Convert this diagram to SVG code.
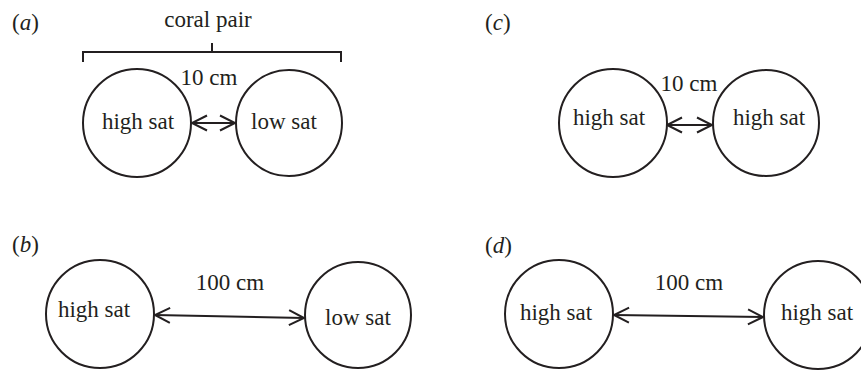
<svg xmlns="http://www.w3.org/2000/svg" width="861" height="370" viewBox="0 0 861 370">
<style>
text{font-family:'Liberation Serif','Tinos','Times New Roman','DejaVu Serif',serif;font-size:23px;fill:#231f20}
.c{text-anchor:middle}
.node circle{fill:#fff;stroke:#231f20;stroke-width:2}
.conn line{stroke:#231f20;stroke-width:2;fill:none}
.br{stroke:#231f20;stroke-width:2;fill:none}
</style>
<defs>
<marker id="ah" markerUnits="userSpaceOnUse" markerWidth="24" markerHeight="24" viewBox="-20 -12 24 24" refX="0" refY="0" orient="auto-start-reverse">
<path d="M-15,-7.5 L0,0 L-15,7.5" fill="none" stroke="#231f20" stroke-width="2"/>
</marker>
</defs>
<text x="12" y="30">(<tspan font-style="italic">a</tspan>)</text>
<text x="485" y="30">(<tspan font-style="italic">c</tspan>)</text>
<text x="12" y="252">(<tspan font-style="italic">b</tspan>)</text>
<text x="485" y="253">(<tspan font-style="italic">d</tspan>)</text>
<g id="bracket">
<path class="br" d="M83,62 V52 H341 V62 M212,52 V43"/>
<text class="c" x="208" y="27">coral pair</text>
</g>
<g class="conn" id="connectors">
<line x1="192" y1="123" x2="235" y2="123" marker-start="url(#ah)" marker-end="url(#ah)"/>
<line x1="667" y1="125" x2="712" y2="125" marker-start="url(#ah)" marker-end="url(#ah)"/>
<line x1="155" y1="315" x2="304" y2="318" marker-start="url(#ah)" marker-end="url(#ah)"/>
<line x1="614" y1="315" x2="763" y2="317" marker-start="url(#ah)" marker-end="url(#ah)"/>
</g>
<text class="c" x="209" y="85">10 cm</text>
<text class="c" x="689" y="91">10 cm</text>
<text class="c" x="230" y="290">100 cm</text>
<text class="c" x="689" y="290">100 cm</text>
<g class="node" id="a-high"><circle cx="137" cy="123" r="54"/><text class="c" x="138" y="129">high sat</text></g>
<g class="node" id="a-low"><circle cx="289" cy="123" r="53"/><text class="c" x="284" y="129">low sat</text></g>
<g class="node" id="c-high1"><circle cx="613" cy="123" r="54"/><text class="c" x="609" y="125">high sat</text></g>
<g class="node" id="c-high2"><circle cx="766" cy="123" r="53"/><text class="c" x="769" y="125">high sat</text></g>
<g class="node" id="b-high"><circle cx="100" cy="314" r="54"/><text class="c" x="94" y="317">high sat</text></g>
<g class="node" id="b-low"><circle cx="358" cy="315" r="53"/><text class="c" x="358" y="325">low sat</text></g>
<g class="node" id="d-high1"><circle cx="559" cy="314" r="54"/><text class="c" x="556" y="320">high sat</text></g>
<g class="node" id="d-high2"><circle cx="818" cy="315" r="54"/><text class="c" x="817" y="320">high sat</text></g>
</svg>
